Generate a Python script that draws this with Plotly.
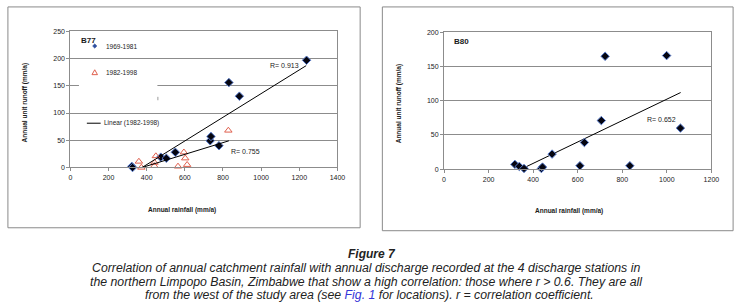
import plotly.graph_objects as go

W, H = 749, 307

# ---------------- data ----------------
# B77 station
b77_rain_6981 = [322, 326, 474, 503, 550, 733, 737, 779, 831, 886, 1238]
b77_runoff_6981 = [2, 0, 19, 17, 28, 49, 57, 40, 156, 131, 197]
b77_rain_8298 = [359, 372, 440, 441, 448, 564, 595, 602, 612, 828]
b77_runoff_8298 = [11, 0, 3, 9, 21, 2, 28, 17, 5, 68]
b77_fit_6981_x = [376, 1236]
b77_fit_6981_y = [0, 187]
b77_fit_8298_x = [376, 831]
b77_fit_8298_y = [0, 49]

# B80 station
b80_rain = [318, 338, 359, 437, 442, 485, 610, 630, 706, 723, 834, 999, 1061]
b80_runoff = [7, 4, 1, 1, 3, 22, 5, 39, 71, 165, 5, 166, 60]
b80_fit_x = [359, 1062]
b80_fit_y = [2, 112]

left_xticks = [0, 200, 400, 600, 800, 1000, 1200, 1400]
left_yticks = [0, 50, 100, 150, 200, 250]
right_xticks = [0, 200, 400, 600, 800, 1000, 1200]
right_yticks = [0, 50, 100, 150, 200]

# ---------------- helpers ----------------
def fx(p):
    return p / W

def fy(p):
    return 1 - p / H

FONT = "Liberation Sans, Arial, sans-serif"
GRID = "#8c8c8c"
TXT = "#1a1a1a"

marker_dia = dict(symbol="diamond", size=6.5, color="#050510",
                  line=dict(color="#5b7fd0", width=1))
marker_tri = dict(symbol="triangle-up-open", size=6.5, color="#e0604e",
                  line=dict(width=1))

fig = go.Figure()

fig.add_trace(go.Scatter(x=b77_rain_6981, y=b77_runoff_6981, mode="markers",
                         marker=marker_dia, xaxis="x", yaxis="y", cliponaxis=False))
fig.add_trace(go.Scatter(x=b77_rain_8298, y=b77_runoff_8298, mode="markers",
                         marker=marker_tri, xaxis="x", yaxis="y", cliponaxis=False))
fig.add_trace(go.Scatter(x=b77_fit_6981_x, y=b77_fit_6981_y, mode="lines",
                         line=dict(color="black", width=1), xaxis="x", yaxis="y"))
fig.add_trace(go.Scatter(x=b77_fit_8298_x, y=b77_fit_8298_y, mode="lines",
                         line=dict(color="black", width=1), xaxis="x", yaxis="y"))

fig.add_trace(go.Scatter(x=b80_fit_x, y=b80_fit_y, mode="lines",
                         line=dict(color="black", width=1), xaxis="x2", yaxis="y2"))
fig.add_trace(go.Scatter(x=b80_rain, y=b80_runoff, mode="markers",
                         marker=marker_dia, xaxis="x2", yaxis="y2", cliponaxis=False))

axis_common = dict(showline=True, linecolor=GRID, linewidth=1, mirror=True,
                   ticks="outside", ticklen=3, tickcolor=GRID, zeroline=False,
                   tickfont=dict(family=FONT, size=7, color=TXT), fixedrange=True)

fig.update_layout(
    width=W, height=H, margin=dict(l=0, r=0, t=0, b=0),
    paper_bgcolor="white", plot_bgcolor="white", showlegend=False, hovermode=False,
    xaxis=dict(domain=[fx(69.3), fx(340)], range=[0, 1400], tickvals=left_xticks,
               showgrid=False, anchor="y", **axis_common),
    yaxis=dict(domain=[fy(167.3), fy(28)], range=[0, 250], tickvals=left_yticks,
               showgrid=True, gridcolor=GRID, gridwidth=1, anchor="x", **axis_common),
    xaxis2=dict(domain=[fx(448), fx(719)], range=[0, 1200], tickvals=right_xticks,
                showgrid=False, anchor="y2", **axis_common),
    yaxis2=dict(domain=[fy(169), fy(29)], range=[0, 200], tickvals=right_yticks,
                showgrid=True, gridcolor=GRID, gridwidth=1, anchor="x2", **axis_common),
)

def path(points):
    return "M " + " L ".join(f"{fx(a):.5f},{fy(b):.5f}" for a, b in points) + " Z"

shapes = []
# outer frames of the two charts
shapes.append(dict(type="rect", xref="paper", yref="paper", x0=fx(6), x1=fx(363),
                   y0=fy(229), y1=fy(3), line=dict(color="#8a8a8a", width=1)))
shapes.append(dict(type="rect", xref="paper", yref="paper", x0=fx(385.5), x1=fx(741),
                   y0=fy(232), y1=fy(3), line=dict(color="#8a8a8a", width=1)))
# gap in the 150 gridline left by the legend box
shapes.append(dict(type="line", xref="paper", yref="y", x0=fx(78), x1=fx(157.5),
                   y0=150, y1=150, line=dict(color="white", width=2), layer="above"))
shapes.append(dict(type="line", xref="paper", yref="paper", x0=fx(158), x1=fx(158),
                   y0=fy(95), y1=fy(98.5), line=dict(color="#9a9a9a", width=1)))
# legend keys
shapes.append(dict(type="path", xref="paper", yref="paper",
                   path=path([(94, 40.8), (96.2, 43), (94, 45.2), (91.8, 43)]),
                   fillcolor="#2f4f9f", line=dict(color="#2f4f9f", width=0.5)))
shapes.append(dict(type="path", xref="paper", yref="paper",
                   path=path([(91.2, 72.3), (96.8, 72.3), (94, 67.3)]),
                   line=dict(color="#e0604e", width=1)))
shapes.append(dict(type="line", xref="paper", yref="paper", x0=fx(86), x1=fx(100),
                   y0=fy(122), y1=fy(122), line=dict(color="black", width=1)))
fig.update_layout(shapes=shapes)

ann = []

def text(x, y, s, size=7, bold=False, xanchor="left", angle=0, color=TXT):
    if bold:
        s = "<b>" + s + "</b>"
    ann.append(dict(x=fx(x), y=fy(y), xref="paper", yref="paper", text=s,
                    showarrow=False, xanchor=xanchor, yanchor="middle",
                    textangle=angle, font=dict(family=FONT, size=size, color=color)))

text(78, 37, "B77", size=8, bold=True)
text(456, 38, "B80", size=8, bold=True)

# legend (B77)
text(103, 43, "1969-1981", size=6.5)
text(103, 70, "1982-1998", size=6.5)
text(101, 122, "Linear (1982-1998)", size=6.5)

# correlation labels
text(270, 63, "R= 0.913", size=7)
text(230, 151, "R= 0.755", size=7)
text(652, 118, "R= 0.652", size=7)

# axis titles
text(23, 101, "Annual unit runoff (mm/a)", size=6.5, bold=True, xanchor="center", angle=-90)
text(182, 211, "Annual rainfall (mm/a)", size=6.5, bold=True, xanchor="center")
text(402, 102, "Annual unit runoff (mm/a)", size=6.5, bold=True, xanchor="center", angle=-90)
text(575, 212, "Annual rainfall (mm/a)", size=6.5, bold=True, xanchor="center")

# caption
CAP = "#222222"
ann.append(dict(x=fx(375), y=fy(256), xref="paper", yref="paper",
                text="<b><i>Figure 7</i></b>", showarrow=False, xanchor="center",
                yanchor="middle", font=dict(family=FONT, size=12, color=CAP)))
cap_lines = [
    "Correlation of annual catchment rainfall with annual discharge recorded at the 4 discharge stations in",
    "the northern Limpopo Basin, Zimbabwe that show a high correlation: those where r &gt; 0.6. They are all",
    "from the west of the study area (see <span style='color:#3535d8'>Fig. 1</span> for locations). r = correlation coefficient.",
]
for s, yy, xc in zip(cap_lines, [270, 284, 298], [369, 369, 372]):
    ann.append(dict(x=fx(xc), y=fy(yy), xref="paper", yref="paper",
                    text="<i>" + s + "</i>", showarrow=False, xanchor="center",
                    yanchor="middle", font=dict(family=FONT, size=12.3, color=CAP)))

fig.update_layout(annotations=ann)

fig.write_html("out.html", config={"displayModeBar": False, "staticPlot": True},
               post_script="document.body.style.margin='0';document.body.style.overflow='hidden';")
